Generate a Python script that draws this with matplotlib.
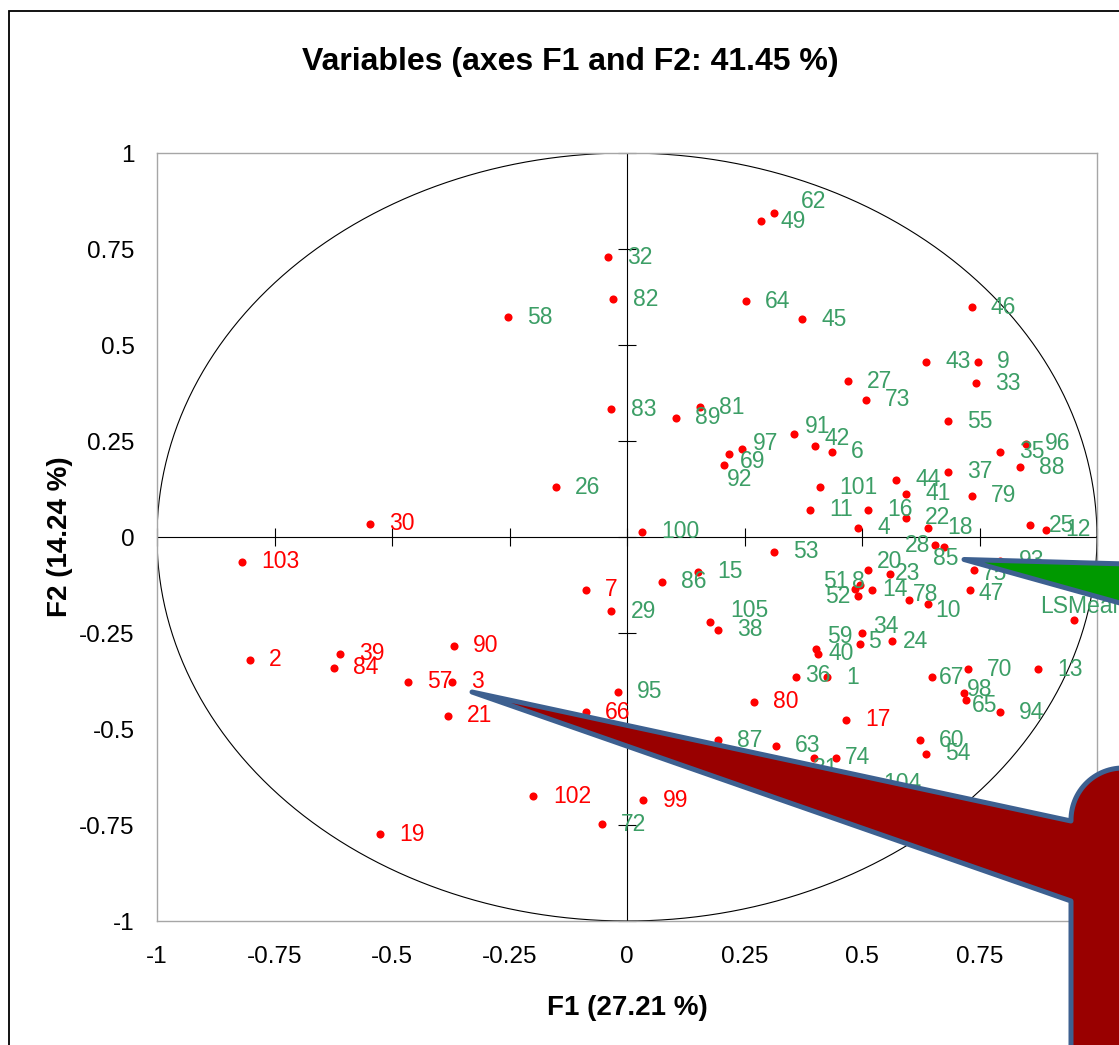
import numpy as np
import matplotlib
matplotlib.use('Agg')
import matplotlib.pyplot as plt
from matplotlib.patches import Polygon, Rectangle

plt.rcParams['font.family'] = ['Liberation Sans', 'DejaVu Sans']

# ---------------- data ----------------
labels = ['1', '2', '3', '4', '5', '6', '7', '8', '9', '10',
          '11', '12', '13', '14', '15', '16', '17', '18', '19', '20',
          '21', '22', '23', '24', '25', '26', '27', '28', '29', '30',
          '31', '32', '33', '34', '35', '36', '37', '38', '39', '40',
          '41', '42', '43', '44', '45', '46', '47', '49', '51', '52',
          '53', '54', '55', '57', '58', '59', '60', '62', '63', '64',
          '65', '66', '67', '69', '70', '72', '73', '74', '75', '78',
          '79', '80', '81', '82', '83', '84', '85', '86', '87', '88',
          '89', '90', '91', '92', '93', '94', '95', '96', '97', '98',
          '99', '100', '101', '102', '103', '104', '105', 'LSMean']
f1 = [0.426, -0.803, -0.373, 0.491, 0.495, 0.436, -0.088, 0.495, 0.746, 0.640,
      0.389, 0.891, 0.874, 0.521, 0.150, 0.512, 0.465, 0.640, -0.526, 0.512,
      -0.381, 0.593, 0.559, 0.563, 0.857, -0.152, 0.470, 0.656, -0.033, -0.547,
      0.397, -0.041, 0.742, 0.499, 0.793, 0.359, 0.682, 0.193, -0.611, 0.406,
      0.593, 0.401, 0.636, 0.572, 0.372, 0.733, 0.729, 0.286, 0.486, 0.491,
      0.312, 0.636, 0.682, -0.467, -0.254, 0.402, 0.623, 0.312, 0.316, 0.253,
      0.721, -0.088, 0.648, 0.218, 0.725, -0.054, 0.508, 0.444, 0.738, 0.601,
      0.733, 0.270, 0.155, -0.029, -0.033, -0.624, 0.674, 0.074, 0.193, 0.836,
      0.104, -0.369, 0.355, 0.206, 0.793, 0.793, -0.020, 0.848, 0.244, 0.716,
      0.035, 0.031, 0.410, -0.199, -0.819, 0.504, 0.176, 0.950]
f2 = [-0.365, -0.320, -0.377, 0.024, -0.278, 0.222, -0.137, -0.125, 0.457, -0.174,
      0.071, 0.019, -0.345, -0.137, -0.090, 0.071, -0.476, 0.024, -0.774, -0.085,
      -0.466, 0.050, -0.096, -0.272, 0.030, 0.129, 0.405, -0.022, -0.194, 0.035,
      -0.575, 0.728, 0.400, -0.251, 0.222, -0.365, 0.170, -0.242, -0.304, -0.304,
      0.113, 0.238, 0.457, 0.149, 0.567, 0.598, -0.137, 0.822, -0.136, -0.153,
      -0.038, -0.565, 0.301, -0.377, 0.572, -0.292, -0.529, 0.844, -0.544, 0.614,
      -0.424, -0.456, -0.365, 0.217, -0.345, -0.748, 0.358, -0.575, -0.085, -0.163,
      0.108, -0.429, 0.338, 0.619, 0.333, -0.341, -0.026, -0.117, -0.529, 0.181,
      0.311, -0.283, 0.269, 0.187, -0.062, -0.456, -0.403, 0.243, 0.228, -0.407,
      -0.685, 0.014, 0.129, -0.675, -0.064, -0.641, -0.221, -0.216]
red_labels = ['2', '3', '7', '17', '19', '21', '30', '39', '57', '66',
              '80', '84', '90', '99', '102', '103']

tick_values = [-1, -0.75, -0.5, -0.25, 0, 0.25, 0.5, 0.75, 1]
tick_labels = ['-1', '-0.75', '-0.5', '-0.25', '0', '0.25', '0.5', '0.75', '1']

title = 'Variables (axes F1 and F2: 41.45 %)'
xlabel = 'F1 (27.21 %)'
ylabel = 'F2 (14.24 %)'

# label placement tweaks (offset points), default is to the right of the dot
label_offsets = {
    '62': (19.7, 8.4), '97': (8.4, 4.6), '69': (7.4, -5.8), '92': (2.2, -10.6),
    '91': (8.1, 5.0), '42': (6.7, 5.3), '28': (-21.8, 0), '85': (-7.5, -8.1),
    '20': (6.5, 5.8), '23': (3.8, 0), '51': (-23.3, 5.3), '8': (-5.8, 2.4),
    '52': (-23.5, -0.7), '14': (7.2, 0), '78': (2.6, 3.4), '10': (5.3, -4.5),
    '75': (5.8, -2.6), '47': (6.7, -2.6), 'LSMean': (-24.3, 9.4),
    '34': (8.4, 4.8), '5': (6.2, 1.4), '24': (8.4, 0), '59': (7.9, 8.9),
    '40': (7.6, 0), '36': (6.7, 1.4), '67': (5.5, 0), '98': (2.2, 2.7),
    '65': (4.3, -3.8), '105': (14.6, 8.4), '74': (6.7, 0), '31': (-1.4, -7.4),
}
default_offset = (14.0, 0.0)

GREEN = '#3C9E66'
RED = '#FF0000'

# ---------------- figure ----------------
W, H = 1119, 1045
fig = plt.figure(figsize=(W / 100, H / 100), dpi=100)


def px(x, y):
    return (x / W, 1 - y / H)


# outer chart frame
fig.add_artist(Rectangle(px(9, 1060), (1135 - 9) / W, (1060 - 11) / H,
                         transform=fig.transFigure, fill=False,
                         edgecolor='black', lw=1.3, zorder=0))

ax = fig.add_axes([157 / W, (H - 921) / H, 940 / W, 768 / H])
ax.set_xlim(-1, 1)
ax.set_ylim(-1, 1)
ax.set_xticks(tick_values)
ax.set_xticklabels(tick_labels)
ax.set_yticks(tick_values)
ax.set_yticklabels(tick_labels)
ax.tick_params(axis='x', length=0, labelsize=17.5, pad=18)
ax.tick_params(axis='y', length=0, labelsize=17.5, pad=16)
for s in ax.spines.values():
    s.set_color('#A6A6A6')
    s.set_linewidth(1.0)

# central axes with ticks
ax.axhline(0, color='black', lw=0.8, zorder=1)
ax.axvline(0, color='black', lw=0.8, zorder=1)
ax.plot(tick_values, np.zeros(len(tick_values)), ls='none', marker='|',
        ms=12.5, mew=0.8, color='black', clip_on=False, zorder=1)
ax.plot(np.zeros(len(tick_values)), tick_values, ls='none', marker='_',
        ms=12.5, mew=0.8, color='black', clip_on=False, zorder=1)

# correlation circle
t = np.linspace(0, 2 * np.pi, 500)
ax.plot(np.cos(t), np.sin(t), color='black', lw=0.8, zorder=1)

# points and labels
ax.scatter(f1, f2, s=34, color=RED, linewidths=0, zorder=3)
for lab, x, y in zip(labels, f1, f2):
    dx, dy = label_offsets.get(lab, default_offset)
    ax.annotate(lab, (x, y), xytext=(dx, dy), textcoords='offset points',
                ha='left', va='center', fontsize=16.5,
                color=RED if lab in red_labels else GREEN,
                annotation_clip=False, zorder=4)

# titles
fig.text(*px(570, 62), title, ha='center', va='center', fontsize=23,
         fontweight='bold')
fig.text(*px(627, 1008), xlabel, ha='center', va='center', fontsize=20,
         fontweight='bold')
fig.text(*px(60, 537), ylabel, ha='center', va='center', fontsize=20,
         fontweight='bold', rotation=90)

# callout shapes (decorations overlaying the chart)
OUT = '#3D6090'
cx, cy, r = 1123, 820, 52
arc = [(cx + r * np.cos(a), cy + r * np.sin(a))
       for a in np.linspace(np.pi, 1.5 * np.pi, 30)]
red_shape = [(472, 692), (1071, 821)] + arc + [(1145, 768), (1145, 1065),
                                               (1071, 1065), (1071, 901)]
fig.add_artist(Polygon([px(*p) for p in red_shape], closed=True,
                       transform=fig.transFigure, facecolor='#990000',
                       edgecolor=OUT, lw=3.6, joinstyle='round', zorder=10))
green_shape = [(964, 559.5), (1145, 564.5), (1145, 610)]
fig.add_artist(Polygon([px(*p) for p in green_shape], closed=True,
                       transform=fig.transFigure, facecolor='#009900',
                       edgecolor=OUT, lw=3.6, joinstyle='round', zorder=10))

fig.savefig('out.png', dpi=100)
